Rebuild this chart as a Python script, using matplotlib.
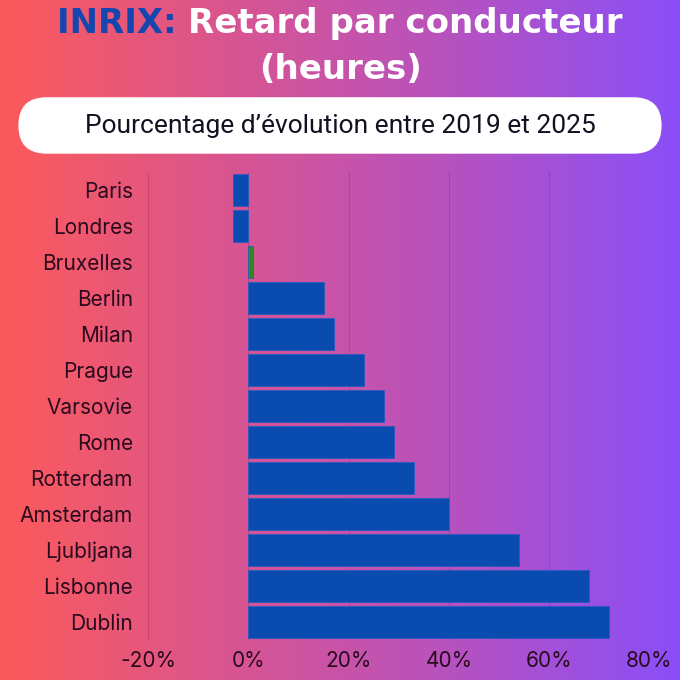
import numpy as np
import matplotlib.pyplot as plt
from matplotlib.patches import FancyBboxPatch
from matplotlib.colors import LinearSegmentedColormap

cities = ["Paris", "Londres", "Bruxelles", "Berlin", "Milan", "Prague", "Varsovie",
          "Rome", "Rotterdam", "Amsterdam", "Ljubljana", "Lisbonne", "Dublin"]
evolution = [-3, -3, 1, 15, 17, 23, 27, 29, 33, 40, 54, 68, 72]
bar_colors = ["#0a4bb0", "#0a4bb0", "#2e8b1e"] + ["#0a4bb0"] * 10
xticks = [-20, 0, 20, 40, 60, 80]

fig = plt.figure(figsize=(6.8, 6.8), dpi=100)

# background gradient
bg = fig.add_axes([0, 0, 1, 1], zorder=-10)
cmap = LinearSegmentedColormap.from_list("bg", ["#fc5a5a", "#d95590", "#b652c0", "#8a4ef8"])
bg.imshow(np.linspace(0, 1, 256).reshape(1, -1), aspect="auto", cmap=cmap, extent=[0, 1, 0, 1])
bg.axis("off")

# title
r = fig.canvas.get_renderer()
tkw = dict(fontsize=24.5, fontweight="bold", family="DejaVu Sans", va="center")
t1 = fig.text(0, 0, "INRIX: ", color="#1446b0", **tkw)
t2 = fig.text(0, 0, "Retard par conducteur", color="white", **tkw)
w1 = t1.get_window_extent(r).width / 680
w2 = t2.get_window_extent(r).width / 680
x0 = 0.5 - (w1 + w2) / 2
t1.set_position((x0, 0.966))
t2.set_position((x0 + w1, 0.966))
fig.text(0.5, 0.898, "(heures)", color="white", ha="center", **tkw)

# subtitle box
box = FancyBboxPatch((0.027, 0.774), 0.946, 0.083, boxstyle="round,pad=0,rounding_size=0.0415",
                     transform=fig.transFigure, facecolor="white", edgecolor="none")
fig.patches.append(box)
fig.text(0.5, 0.815, "Pourcentage d\u2019évolution entre 2019 et 2025", fontsize=19,
         family=["Roboto", "DejaVu Sans"], color="#111122", ha="center", va="center")

ax = fig.add_axes([0.218, 0.059, 0.737, 0.688])
ax.patch.set_alpha(0)
y = np.arange(len(cities))
ax.barh(y, evolution, height=0.9, color=bar_colors, edgecolor="#2a5ac0", linewidth=0.6, zorder=3)
ax.set_ylim(len(cities) - 0.5, -0.5)
ax.set_xlim(-20, 80)
ax.set_xticks(xticks)
ax.set_xticklabels([f"{v}%" for v in xticks])
ax.set_yticks(y)
ax.set_yticklabels(cities)
ax.tick_params(length=0, labelsize=15, colors="#2a0a1e", pad=8)
ax.tick_params(axis="y", pad=11)
for lab in ax.get_xticklabels() + ax.get_yticklabels():
    lab.set_family(["Inter", "DejaVu Sans"])
ax.grid(axis="x", color="#5a0a40", alpha=0.18, linewidth=0.8, zorder=0)
for s in ax.spines.values():
    s.set_visible(False)

fig.savefig("out.png", dpi=100)
